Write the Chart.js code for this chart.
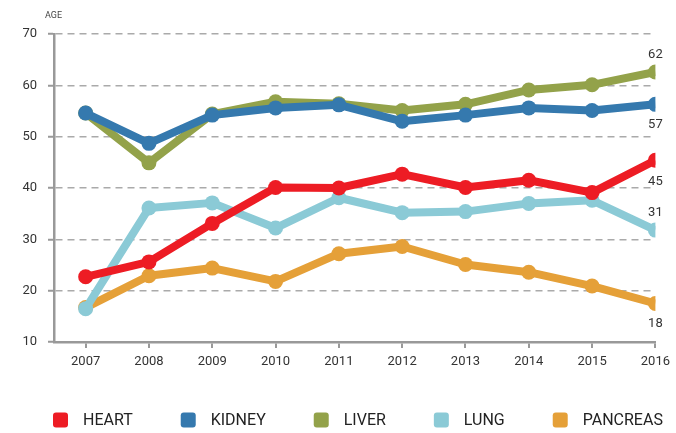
<!DOCTYPE html>
<html lang="en">
<head>
  <meta charset="UTF-8">
  <title>Age by organ</title>
  <script src="https://cdn.jsdelivr.net/npm/chart.js"></script>
  <style>
    body {
      margin: 0;
      background: #fff;
    }
    #wrap {
      width: 676px;
      height: 433px;
    }
  </style>
</head>
<body>
  <div id="wrap">
    <canvas id="age-chart" width="676" height="433"></canvas>
  </div>

  <script>
    // data
    const years = [2007, 2008, 2009, 2010, 2011, 2012, 2013, 2014, 2015, 2016];
    const heart    = [22.7, 25.6, 33.1, 40.1, 40.0, 42.7, 40.1, 41.5, 39.1, 45.4];
    const kidney   = [54.6, 48.7, 54.2, 55.6, 56.2, 53.0, 54.2, 55.6, 55.1, 56.3];
    const liver    = [54.6, 44.9, 54.4, 56.8, 56.4, 55.1, 56.3, 59.1, 60.1, 62.6];
    const lung     = [16.5, 36.1, 37.1, 32.2, 38.1, 35.2, 35.4, 37.0, 37.6, 31.8];
    const pancreas = [16.7, 22.9, 24.4, 21.8, 27.2, 28.6, 25.1, 23.6, 20.9, 17.5];
    const endLabels = ['45', '57', '62', '31', '18'];
    const yTicks = [10, 20, 30, 40, 50, 60, 70];

    const seriesNames = ['HEART', 'KIDNEY', 'LIVER', 'LUNG', 'PANCREAS'];
    const seriesValues = [heart, kidney, liver, lung, pancreas];
    const seriesColors = ['#ed1c24', '#3579ae', '#93a24a', '#8bcad6', '#e5a038'];

    const FONT = 'Roboto, "Liberation Sans", sans-serif';

    // label above (-) or below (+) the last point
    const labelShift = [21, 20, -17, -17, 20];

    const endLabelPlugin = {
      id: 'endLabels',
      afterDatasetsDraw(chart) {
        const ctx = chart.ctx;
        ctx.save();
        ctx.font = '13px ' + FONT;
        ctx.fillStyle = '#333';
        ctx.textAlign = 'center';
        ctx.textBaseline = 'middle';
        chart.data.datasets.forEach((ds, i) => {
          const pts = chart.getDatasetMeta(i).data;
          const last = pts[pts.length - 1];
          ctx.fillText(endLabels[i], last.x, last.y + labelShift[i]);
        });
        // small axis caption
        ctx.font = '9px ' + FONT;
        ctx.textAlign = 'left';
        ctx.fillStyle = '#444';
        ctx.fillText('AGE', chart.chartArea.left - 9, chart.chartArea.top - 18);
        ctx.restore();
      }
    };

    // legend row under the axis, drawn by hand so the wide gaps fit
    const legendRow = {
      id: 'legendRow',
      afterDraw(chart) {
        const ctx = chart.ctx;
        const y = chart.height - 13;
        let x = chart.chartArea.left - 1;
        ctx.save();
        ctx.font = '16px ' + FONT;
        ctx.textBaseline = 'middle';
        ctx.textAlign = 'left';
        chart.data.datasets.forEach(ds => {
          ctx.fillStyle = ds.borderColor;
          ctx.beginPath();
          ctx.roundRect(x, y - 7.5, 15, 15, 3);
          ctx.fill();
          ctx.fillStyle = '#222';
          ctx.fillText(ds.label, x + 30, y + 0.5);
          x += 30 + ctx.measureText(ds.label).width + 48;
        });
        ctx.restore();
      }
    };

    const datasets = seriesNames.map((name, i) => ({
      label: name,
      data: years.map((yr, j) => ({ x: yr, y: seriesValues[i][j] })),
      borderColor: seriesColors[i],
      backgroundColor: seriesColors[i],
      borderWidth: 8,
      borderJoinStyle: 'round',
      pointRadius: 7.5,
      pointHoverRadius: 7.5,
      pointBorderWidth: 0,
      tension: 0
    }));

    new Chart(document.getElementById('age-chart'), {
      type: 'line',
      data: { datasets: datasets },
      options: {
        responsive: false,
        animation: false,
        layout: {
          padding: { top: 34, right: 17, left: 5, bottom: 62 }
        },
        plugins: {
          tooltip: { enabled: false },
          legend: { display: false }
        },
        scales: {
          x: {
            type: 'linear',
            min: 2006.5,
            max: 2016,
            afterBuildTicks(scale) {
              scale.ticks = years.map(v => ({ value: v }));
            },
            afterFit(scale) {
              scale.height = 29;
            },
            grid: {
              drawOnChartArea: false,
              drawTicks: true,
              tickLength: 6,
              tickColor: '#999',
              lineWidth: 2
            },
            border: { color: '#999', width: 2.5 },
            ticks: {
              padding: 6,
              color: '#333',
              font: { family: FONT, size: 13 },
              callback: v => String(v)
            }
          },
          y: {
            min: 10,
            max: 70,
            afterBuildTicks(scale) {
              scale.ticks = yTicks.map(v => ({ value: v }));
            },
            afterFit(scale) {
              scale.width = 49;
            },
            grid: {
              color: ctx => ctx.tick && ctx.tick.value === 10 ? 'rgba(0,0,0,0)' : '#aaa',
              lineWidth: 1.5,
              tickLength: 6,
              tickColor: '#999',
              tickWidth: 2,
              tickBorderDash: []
            },
            border: { color: '#999', width: 2.5, dash: [7, 5] },
            ticks: {
              padding: 11,
              color: '#333',
              font: { family: FONT, size: 13 }
            }
          }
        }
      },
      plugins: [endLabelPlugin, legendRow]
    });
  </script>
</body>
</html>
